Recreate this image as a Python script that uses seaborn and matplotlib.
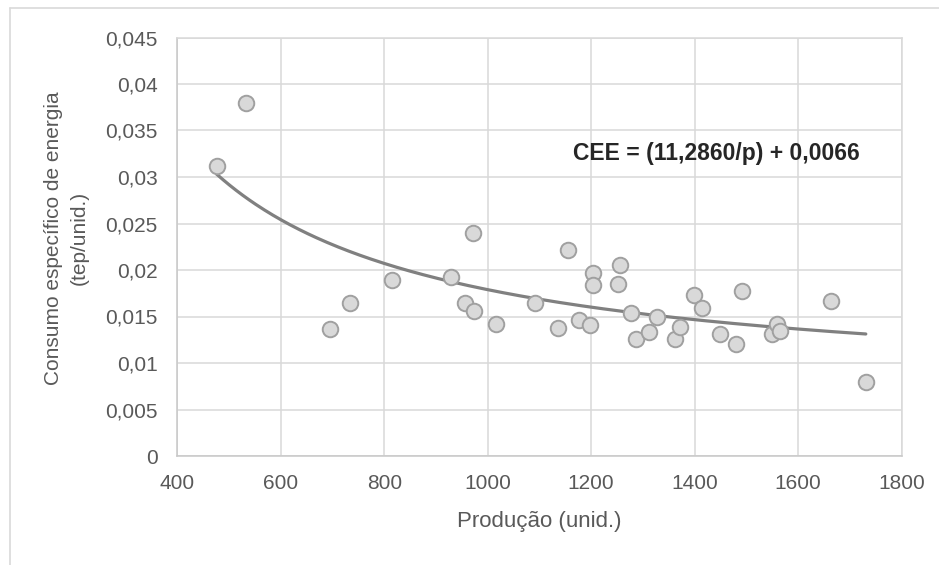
import numpy as np
import pandas as pd
import matplotlib
matplotlib.use("Agg")
import matplotlib.pyplot as plt
from matplotlib.lines import Line2D
import seaborn as sns

# ---- data ----
producao = [476, 532, 695, 734, 816, 929, 956, 972, 974, 1016, 1092, 1135,
            1156, 1177, 1198, 1204, 1204, 1251, 1256, 1277, 1287, 1311,
            1328, 1362, 1372, 1399, 1414, 1450, 1481, 1491, 1549, 1560,
            1565, 1663, 1731]
cee = [0.0312, 0.0380, 0.0137, 0.0165, 0.0189, 0.0193, 0.0164, 0.0240,
       0.0156, 0.0142, 0.0165, 0.0138, 0.0221, 0.0146, 0.0141, 0.0197,
       0.0184, 0.0185, 0.0205, 0.0154, 0.0126, 0.0133, 0.0149, 0.0126,
       0.0139, 0.0173, 0.0159, 0.0131, 0.0120, 0.0177, 0.0131, 0.0142,
       0.0134, 0.0167, 0.0080]
coef_a = 11.2860
coef_b = 0.0066
x_ticks = [400, 600, 800, 1000, 1200, 1400, 1600, 1800]
y_ticks = [0, 0.005, 0.01, 0.015, 0.02, 0.025, 0.03, 0.035, 0.04, 0.045]
y_tick_labels = ["0", "0,005", "0,01", "0,015", "0,02", "0,025", "0,03",
                 "0,035", "0,04", "0,045"]
equation = "CEE = (11,2860/p) + 0,0066"
x_label = "Produção (unid.)"
y_label = "Consumo específico de energia\n(tep/unid.)"

sns.set_style("white")
plt.rcParams["font.family"] = ["Liberation Sans", "DejaVu Sans"]

W, H = 939, 565
fig = plt.figure(figsize=(W / 100, H / 100), dpi=100)
ax_l, ax_r, ax_t, ax_b = 177.3, 901.5, 37.5, 456.0
ax = fig.add_axes([ax_l / W, 1 - ax_b / H, (ax_r - ax_l) / W, (ax_b - ax_t) / H])

grid_c = "#D9D9D9"
text_c = "#595959"

df = pd.DataFrame({"Produção": producao, "CEE": cee})
curve_x = np.linspace(min(producao), max(producao), 300)
curve = pd.DataFrame({"p": curve_x, "CEE": coef_a / curve_x + coef_b})

sns.lineplot(data=curve, x="p", y="CEE", ax=ax, color="#808080",
             linewidth=2.3, zorder=2)
sns.scatterplot(data=df, x="Produção", y="CEE", ax=ax, s=125,
                color="#D9D9D9", edgecolor="#A0A0A0", linewidth=1.4,
                zorder=3)

ax.set_xlim(400, 1800)
ax.set_ylim(0, 0.045)
ax.set_xticks(x_ticks)
ax.set_xticklabels([str(v) for v in x_ticks])
ax.set_yticks(y_ticks)
ax.set_yticklabels(y_tick_labels)
ax.grid(True, color=grid_c, linewidth=1.1)
ax.set_axisbelow(True)
ax.tick_params(axis="both", length=0, labelsize=15, colors=text_c)
ax.tick_params(axis="x", pad=13)
ax.tick_params(axis="y", pad=14)
for s in ["top", "right"]:
    ax.spines[s].set_color(grid_c)
    ax.spines[s].set_linewidth(1.1)
for s in ["left", "bottom"]:
    ax.spines[s].set_color("#C8C8C8")
    ax.spines[s].set_linewidth(1.1)

ax.set_xlabel(x_label, fontsize=16, color=text_c)
ax.set_ylabel(y_label, fontsize=15, color=text_c, linespacing=1.45)
ax.xaxis.set_label_coords(0.5, -0.131)
ax.yaxis.set_label_coords(-0.122, 0.52)

fig.text(573 / W, 1 - 153 / H, equation, fontsize=16.5, fontweight="bold",
         color="#262626", ha="left", va="center")

# chart area border (only left and top edges visible in the reference)
fig.add_artist(Line2D([10 / W, 10 / W], [0, 1 - 8 / H], transform=fig.transFigure,
                      color="#D9D9D9", linewidth=1.2))
fig.add_artist(Line2D([10 / W, 1], [1 - 8 / H, 1 - 8 / H], transform=fig.transFigure,
                      color="#D9D9D9", linewidth=1.2))

fig.savefig("out.png", dpi=100)
